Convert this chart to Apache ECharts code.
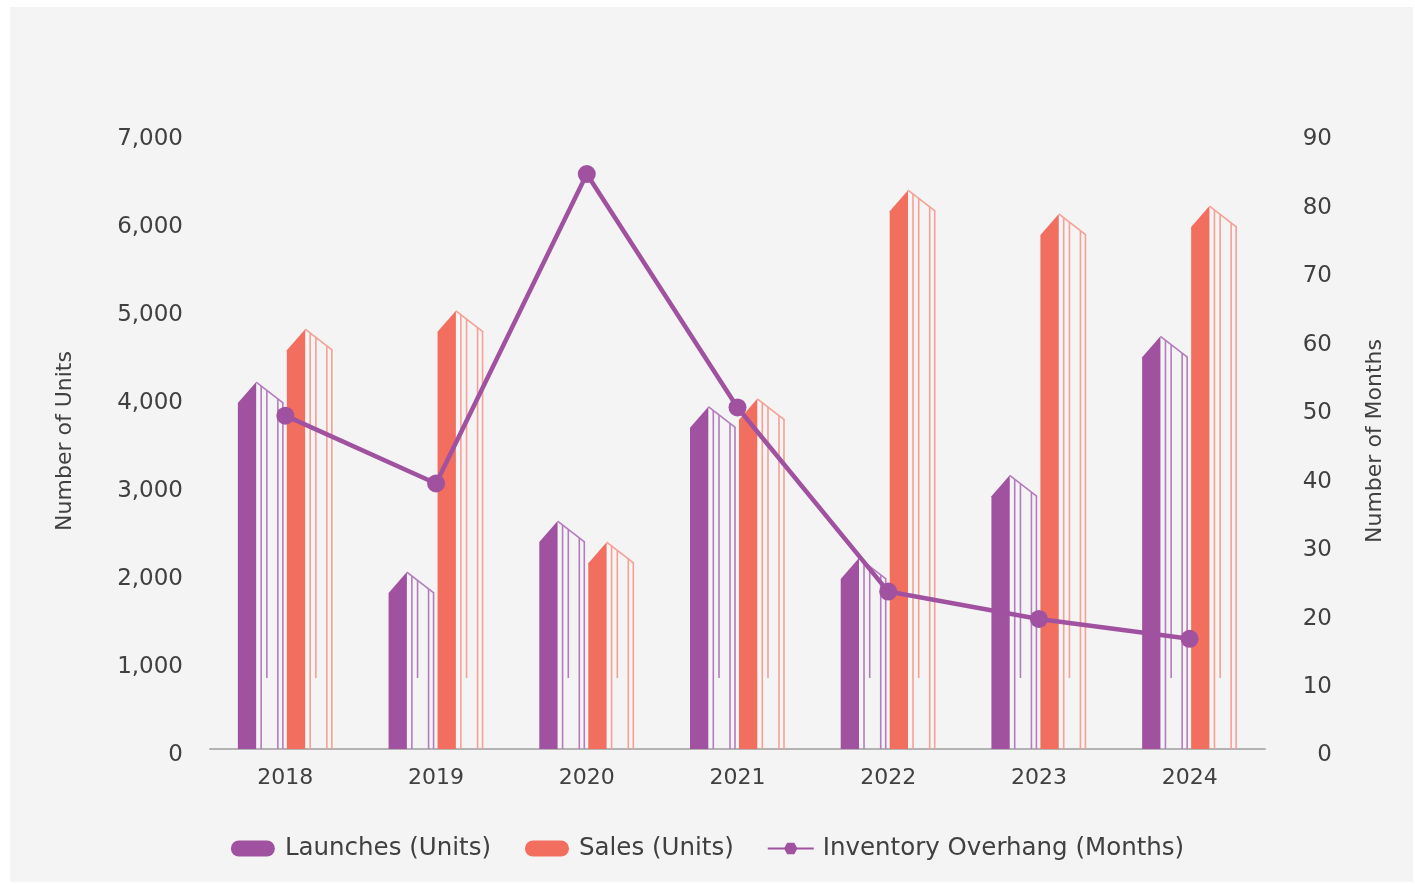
<!DOCTYPE html>
<html>
<head>
<meta charset="utf-8">
<script src="https://cdn.jsdelivr.net/npm/echarts@6/dist/echarts.min.js"></script>
<style>
  html, body { margin: 0; padding: 0; background: #ffffff; }
  #chart { width: 1415px; height: 884px; }
</style>
</head>
<body>
<div id="chart"></div>
<script>
// Residential market: launches, sales and inventory overhang by year
const years = ['2018', '2019', '2020', '2021', '2022', '2023', '2024'];
const launches = [4170, 2010, 2590, 3890, 2170, 3110, 4690];      // units
const sales = [4770, 4980, 2350, 3980, 6350, 6080, 6170];         // units
const overhang = [48.7, 38.8, 84.0, 49.9, 23.0, 19.0, 16.1];      // months
const unitTicks = { min: 0, max: 7000, interval: 1000 };
const monthTicks = { min: 0, max: 90, interval: 10 };

const FONT = 'DejaVu Sans';
const TEXT = '#404040';
const PURPLE = '#A052A0';
const PURPLE_LINE = '#B47CBE';
const CORAL = '#F26F5F';
const CORAL_LINE = '#F6A096';

// Draws one "tower" bar: a solid face with a pointed top, a sloped roof
// line and a few thin vertical window lines on its lit side.
function tower(fill, stroke, offset) {
  return function (params, api) {
    const i = api.value(0);
    const top = api.coord([i, api.value(1)]);
    const base = api.coord([i, 0]);
    const x0 = top[0] + offset;
    const yt = top[1];
    const yb = base[1];
    const roof = 21;
    const face = 18.3;
    const roofEnd = 45.5;
    const children = [{
      type: 'polygon',
      shape: { points: [[x0, yb], [x0, yt + roof], [x0 + face, yt], [x0 + face, yb]] },
      style: { fill: fill }
    }, {
      type: 'line',
      shape: { x1: x0 + face, y1: yt, x2: x0 + roofEnd, y2: yt + roof },
      style: { stroke: stroke, lineWidth: 1.6 }
    }];
    [23.3, 29, 40, 45].forEach(function (dx) {
      const yRoof = yt + roof * (dx - face) / (roofEnd - face);
      const yEnd = dx === 29 ? yb - 71 : yb;
      children.push({
        type: 'line',
        shape: { x1: x0 + dx, y1: yRoof, x2: x0 + dx, y2: yEnd },
        style: { stroke: stroke, lineWidth: 1.6 }
      });
    });
    return { type: 'group', children: children };
  };
}

const pill = 'path://M8,0 H36 A8,8 0 0 1 36,16 H8 A8,8 0 0 1 8,0 Z';
const lineMarker = 'path://M0,7 L19,7 L22,1.5 L30,1.5 L33,7 L52,7 L52,9 L33,9 L30,14.5 L22,14.5 L19,9 L0,9 Z';

// Tick labels sit slightly below their tick; the rich block adds top space.
const lowered = { t: { padding: [13, 0, 0, 0], fontSize: 23, color: TEXT, fontFamily: FONT } };

const chart = echarts.init(document.getElementById('chart'), null, { renderer: 'canvas' });
chart.setOption({
  animation: false,
  textStyle: { fontFamily: FONT },
  graphic: [{
    type: 'rect', z: -10, silent: true,
    shape: { x: 10, y: 7, width: 1403, height: 875 },
    style: { fill: '#F4F4F4' }
  }],
  grid: { left: 210, right: 150, top: 133, bottom: 135 },
  legend: {
    bottom: 18,
    left: 'center',
    itemWidth: 46,
    itemHeight: 16,
    itemGap: 34,
    textStyle: { color: TEXT, fontSize: 24.5, fontFamily: FONT, padding: [0, 0, 0, 4] },
    data: [
      { name: 'Launches (Units)', icon: pill },
      { name: 'Sales (Units)', icon: pill },
      { name: 'Inventory Overhang (Months)', icon: lineMarker }
    ]
  },
  xAxis: {
    type: 'category',
    data: years,
    axisLine: { lineStyle: { color: '#B3B3B3', width: 2 } },
    axisTick: { show: false },
    axisLabel: { color: TEXT, fontSize: 22, margin: 18 }
  },
  yAxis: [{
    type: 'value',
    min: unitTicks.min, max: unitTicks.max, interval: unitTicks.interval,
    name: 'Number of Units',
    nameLocation: 'middle',
    nameRotate: 90,
    nameGap: 134,
    nameTextStyle: { color: TEXT, fontSize: 22 },
    axisLine: { show: false },
    axisTick: { show: false },
    splitLine: { show: false },
    axisLabel: {
      margin: 27,
      rich: lowered,
      formatter: function (v) { return '{t|' + v.toLocaleString('en-US') + '}'; }
    }
  }, {
    type: 'value',
    min: monthTicks.min, max: monthTicks.max, interval: monthTicks.interval,
    name: 'Number of Months',
    nameLocation: 'middle',
    nameRotate: 90,
    nameGap: 99,
    nameTextStyle: { color: TEXT, fontSize: 22 },
    axisLine: { show: false },
    axisTick: { show: false },
    splitLine: { show: false },
    axisLabel: {
      margin: 67, align: 'right',
      rich: lowered,
      formatter: function (v) { return '{t|' + v + '}'; }
    }
  }],
  series: [{
    name: 'Launches (Units)',
    type: 'custom',
    itemStyle: { color: PURPLE },
    encode: { x: 0, y: 1 },
    data: launches.map(function (v, i) { return [i, v]; }),
    renderItem: tower(PURPLE, PURPLE_LINE, -47.5)
  }, {
    name: 'Sales (Units)',
    type: 'custom',
    itemStyle: { color: CORAL },
    encode: { x: 0, y: 1 },
    data: sales.map(function (v, i) { return [i, v]; }),
    renderItem: tower(CORAL, CORAL_LINE, 1.5)
  }, {
    name: 'Inventory Overhang (Months)',
    type: 'line',
    yAxisIndex: 1,
    data: overhang,
    symbol: 'circle',
    symbolSize: 18,
    z: 5,
    lineStyle: { color: PURPLE, width: 4.5 },
    itemStyle: { color: PURPLE }
  }]
});
</script>
</body>
</html>
